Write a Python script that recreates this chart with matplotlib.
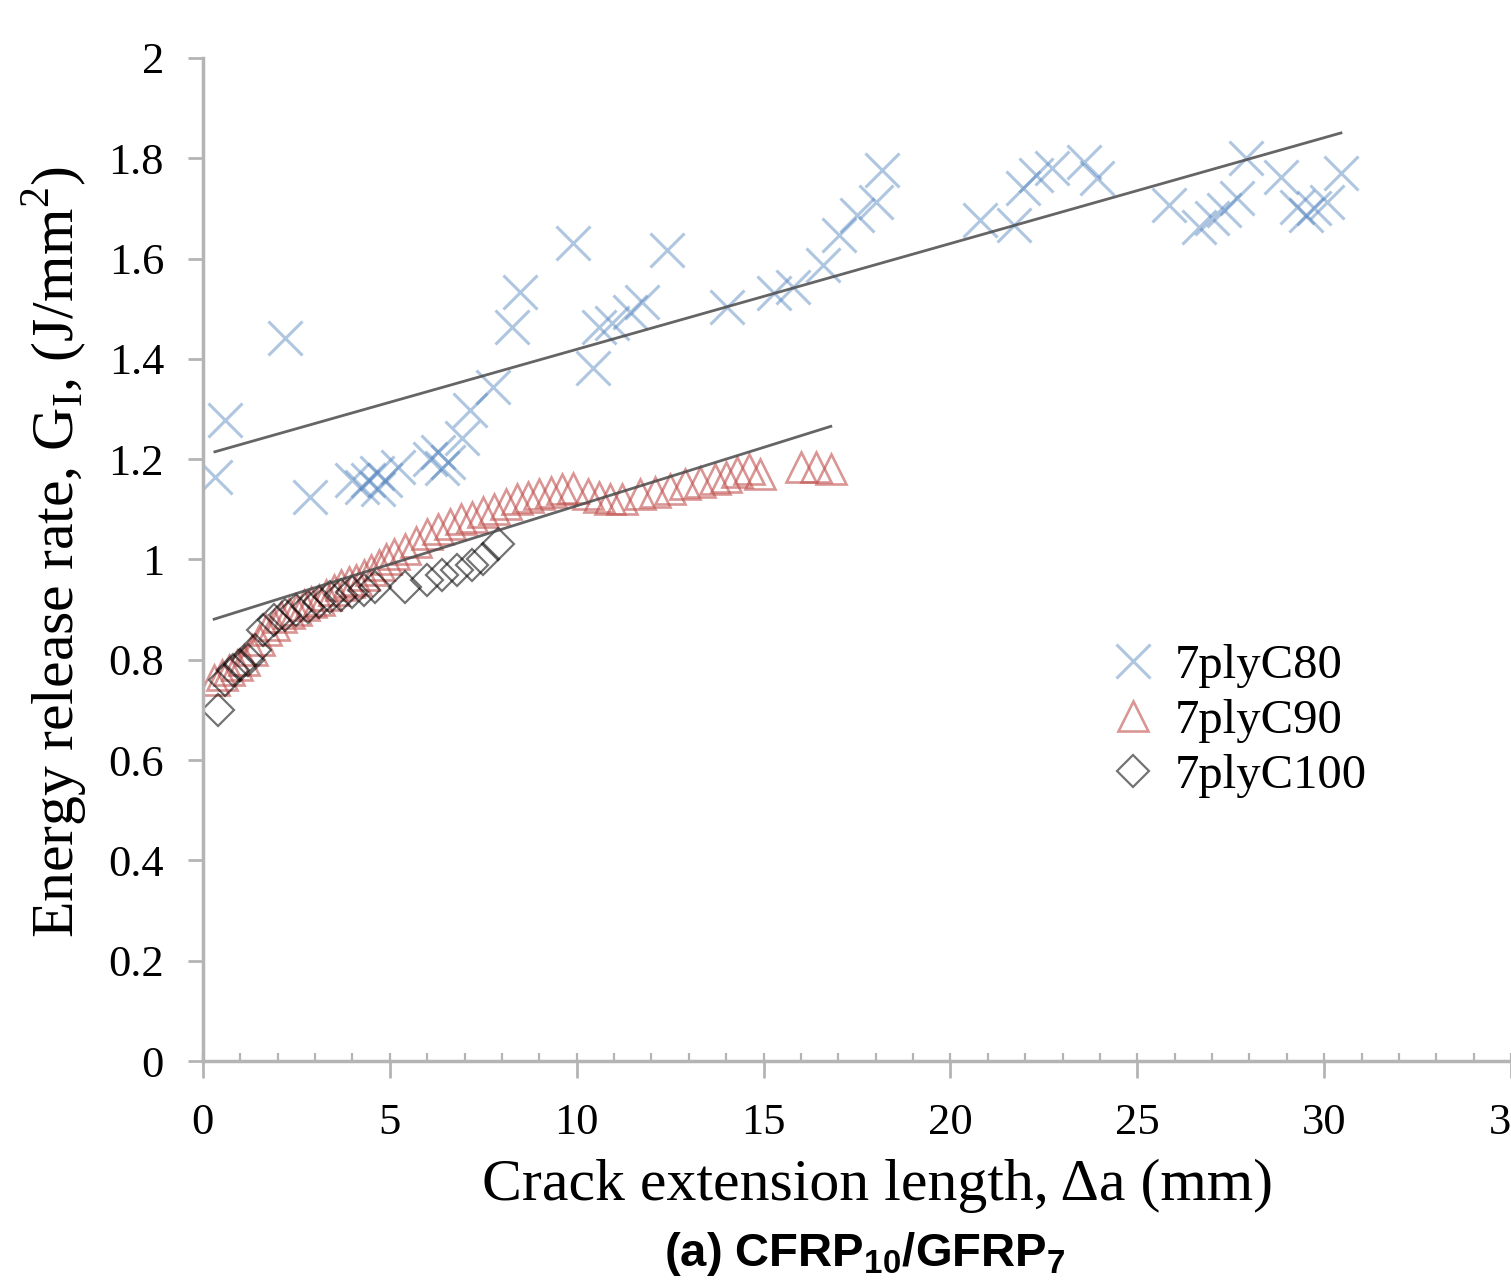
import matplotlib
matplotlib.use("Agg")
import matplotlib.pyplot as plt
from matplotlib.ticker import MultipleLocator, FuncFormatter
import numpy as np

plt.rcParams['mathtext.fontset'] = 'custom'
plt.rcParams['mathtext.rm'] = 'Liberation Serif'
plt.rcParams['mathtext.bf'] = 'Liberation Sans:bold'

# 7plyC80 (crosses)
c80_x = [0.32, 0.59, 2.19, 2.86, 4.00, 4.25, 4.41, 4.65, 4.68, 4.87, 5.21, 6.07,
         6.28, 6.39, 6.55, 6.93, 7.14, 7.75, 8.26, 8.48, 9.89, 10.43, 10.61, 10.94,
         11.42, 11.74, 12.43, 14.01, 15.29, 15.78, 16.58, 17.03, 17.51, 18.02, 18.18,
         20.78, 21.71, 21.93, 22.30, 22.73, 23.58, 23.93, 25.86, 26.66, 27.00, 27.33,
         27.67, 27.90, 28.85, 29.28, 29.52, 29.73, 30.08, 30.45]
c80_y = [1.165, 1.278, 1.442, 1.125, 1.158, 1.145, 1.158, 1.172, 1.140, 1.158, 1.184, 1.200,
         1.214, 1.182, 1.194, 1.242, 1.298, 1.344, 1.464, 1.534, 1.631, 1.382, 1.464, 1.472,
         1.494, 1.514, 1.617, 1.503, 1.531, 1.543, 1.587, 1.647, 1.687, 1.713, 1.777,
         1.677, 1.667, 1.741, 1.767, 1.781, 1.793, 1.761, 1.707, 1.663, 1.681, 1.697,
         1.721, 1.801, 1.763, 1.703, 1.687, 1.701, 1.713, 1.771]

# 7plyC90 (triangles)
c90_x = [0.3, 0.5, 0.7, 0.9, 1.1, 1.3, 1.5, 1.7, 1.9, 2.1, 2.3, 2.5, 2.7, 2.9, 3.1,
         3.3, 3.5, 3.7, 3.9, 4.1, 4.3, 4.5, 4.7, 4.9, 5.1, 5.4, 5.7, 6.0, 6.3, 6.6,
         6.9, 7.2, 7.5, 7.8, 8.1, 8.4, 8.7, 9.0, 9.3, 9.6, 9.9, 10.3, 10.6, 10.9,
         11.2, 11.7, 12.1, 12.5, 12.9, 13.3, 13.7, 14.0, 14.3, 14.6, 14.9, 16.0,
         16.4, 16.8]
c90_y = [0.76, 0.77, 0.78, 0.79, 0.80, 0.82, 0.84, 0.86, 0.87, 0.885, 0.893, 0.90,
         0.91, 0.915, 0.92, 0.93, 0.94, 0.95, 0.955, 0.96, 0.97, 0.98, 0.99, 1.00,
         1.01, 1.02, 1.035, 1.05, 1.06, 1.07, 1.08, 1.085, 1.095, 1.10, 1.11, 1.12,
         1.125, 1.13, 1.135, 1.14, 1.143, 1.13, 1.125, 1.12, 1.12, 1.13, 1.135, 1.14,
         1.15, 1.155, 1.16, 1.165, 1.175, 1.18, 1.17, 1.185, 1.185, 1.18]

# 7plyC100 (diamonds)
c100_x = [0.4, 0.6, 0.8, 1.0, 1.2, 1.4, 1.6, 1.9, 2.2, 2.5, 2.8, 3.1, 3.4, 3.7,
          4.0, 4.3, 4.6, 5.4, 6.0, 6.4, 6.8, 7.2, 7.5, 7.9]
c100_y = [0.70, 0.76, 0.78, 0.79, 0.80, 0.82, 0.86, 0.88, 0.89, 0.90, 0.905, 0.915,
          0.925, 0.93, 0.935, 0.94, 0.945, 0.945, 0.96, 0.97, 0.98, 0.99, 1.00, 1.03]

# linear trend lines (slope, intercept)
trend_c80 = (0.0211, 1.208)
trend_c90 = (0.0233, 0.874)

labels = ['7plyC80', '7plyC90', '7plyC100']

fig = plt.figure(figsize=(15.11, 12.85), dpi=100)
ax = fig.add_axes([0.1343, 0.1743, 0.8657, 0.7806])

gray = '#b4b4b4'
ax.plot(c80_x, c80_y, ls='none', marker='x', ms=24, mew=2.2, color='#4f81bd', alpha=0.45, label=labels[0])
ax.plot(c90_x, c90_y, ls='none', marker='^', ms=21, mew=1.9, mfc='none', mec='#c0504d', alpha=0.6, label=labels[1])
ax.plot(c100_x, c100_y, ls='none', marker='D', ms=16, mew=1.6, mfc='none', mec='#000000', alpha=0.55, label=labels[2])

for (xs, tr) in [(c80_x, trend_c80), (c90_x, trend_c90)]:
    xx = np.array([min(xs), max(xs)])
    ax.plot(xx, tr[0] * xx + tr[1], color='#4a4a4a', lw=2.0, alpha=0.85)

ax.set_xlim(0, 35)
ax.set_ylim(0, 2)
ax.xaxis.set_major_locator(MultipleLocator(5))
ax.xaxis.set_minor_locator(MultipleLocator(1))
ax.xaxis.remove_overlapping_locs = False
ax.yaxis.set_major_locator(MultipleLocator(0.2))
ax.yaxis.set_major_formatter(FuncFormatter(lambda v, p: ('%.1f' % v).rstrip('0').rstrip('.')))

for s in ['top', 'right']:
    ax.spines[s].set_visible(False)
for s in ['left', 'bottom']:
    ax.spines[s].set_color(gray)
    ax.spines[s].set_linewidth(2.5)

ax.tick_params(axis='y', which='major', direction='out', length=11, width=2, color=gray,
               labelsize=32, pad=17, labelfontfamily='Liberation Serif')
ax.tick_params(axis='x', which='major', direction='out', length=12, width=2, color=gray,
               labelsize=32, pad=18, labelfontfamily='Liberation Serif')
ax.tick_params(axis='x', which='minor', direction='in', length=6, width=1.6, color=gray)

ax.legend(loc='upper left', bbox_to_anchor=(0.736, 0.4985), bbox_transform=fig.transFigure,
          frameon=False, numpoints=1, handlelength=0.85, handletextpad=0.44,
          labelspacing=0.22, borderpad=0, borderaxespad=0,
          prop={'family': 'Liberation Serif', 'size': 35})

fig.text(55 / 1511, 1 - 552 / 1285, r'Energy release rate, G$_\mathrm{I}$, (J/mm$^\mathrm{2}$)',
         rotation=90, ha='center', va='center', fontsize=43, family='Liberation Serif')
fig.text(877 / 1511, 1 - 1200 / 1285, 'Crack extension length, Δa (mm)',
         ha='center', va='baseline', fontsize=43, family='Liberation Serif')
fig.text(865 / 1511, 1 - 1266 / 1285, r'(a) CFRP$_\mathbf{10}$/GFRP$_\mathbf{7}$',
         ha='center', va='baseline', fontsize=34, family='Liberation Sans', weight='bold')

fig.savefig('out.png', dpi=100)
